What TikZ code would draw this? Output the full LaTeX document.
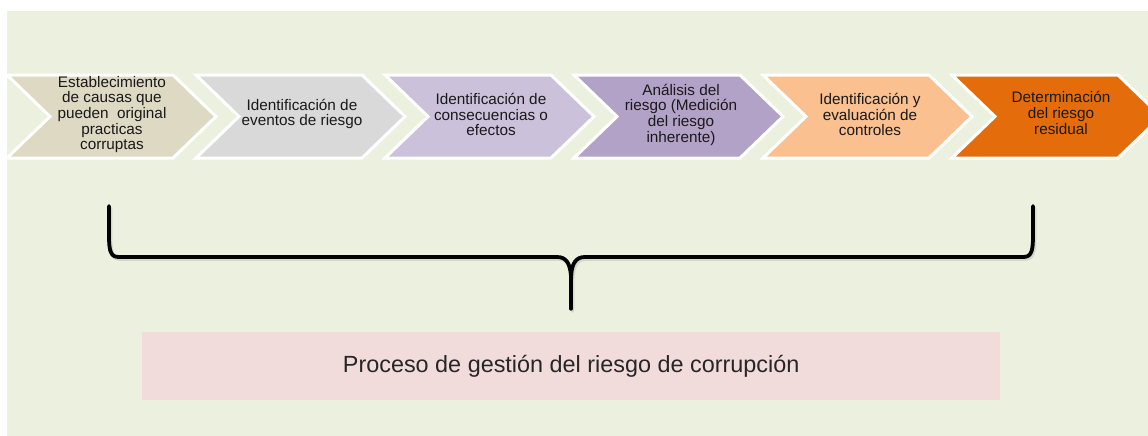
\documentclass[tikz,border=0pt]{standalone}
\usepackage{fontspec}
\setmainfont{Liberation Sans}
\definecolor{bgG}{HTML}{EBF1DE}
\definecolor{chA}{HTML}{DDD9C3}
\definecolor{chB}{HTML}{D9D9D9}
\definecolor{chC}{HTML}{CCC1DA}
\definecolor{chD}{HTML}{B3A2C7}
\definecolor{chE}{HTML}{FAC090}
\definecolor{chF}{HTML}{E46C0A}
\definecolor{pinkbox}{HTML}{F2DCDB}
\begin{document}
\begin{tikzpicture}[x=1pt,y=-1pt,
  chev/.style={draw=white,line width=3pt,line join=miter},
  chevtext/.style={align=center,inner sep=0pt,text=black!90,font=\fontsize{15.3}{15.7}\selectfont},
  bracestyle/.style={draw=black,line width=3.8pt,line cap=round,line join=round}]
\useasboundingbox (0,0) rectangle (1148,436);
\fill[white] (0,0) rectangle (1148,436);
\fill[bgG] (7,11) rectangle (1148,436);
\begin{scope}
\clip (7,11) rectangle (1148,436);
\foreach \L/\col in {7/chA,196/chB,385/chC,574/chD,763/chE,952/chF}{
  \filldraw[chev,fill=\col] (\L,75) -- ({\L+166},75) -- ({\L+209},116.5) -- ({\L+166},158) -- (\L,158) -- ({\L+43},116.5) -- cycle;
}
\end{scope}
\node[chevtext] (c1) at (112,114.5) {Establecimiento\\de causas que\\pueden~ original\\practicas\\corruptas};
\node[chevtext] (c2) at (302,114) {Identificación de\\eventos de riesgo};
\node[chevtext] (c3) at (491,114.5) {Identificación de\\consecuencias o\\efectos};
\node[chevtext] (c4) at (681,114.5) {Análisis del\\riesgo (Medición\\del riesgo\\inherente)};
\node[chevtext] (c5) at (870,114.5) {Identificación y\\evaluación de\\controles};
\node[chevtext] (c6) at (1061,113) {Determinación\\del riesgo\\residual};
% brace shadow
\begin{scope}[shift={(1.5,2)},opacity=0.22]
\draw[bracestyle,draw=gray] (109,206) -- (109,236) .. controls (109,252) and (111,257) .. (119,257) -- (557,257) .. controls (566,257) and (570,263) .. (571,276) -- (571,309);
\draw[bracestyle,draw=gray] (1033,206) -- (1033,236) .. controls (1033,252) and (1031,257) .. (1023,257) -- (585,257) .. controls (576,257) and (572,263) .. (571,276);
\end{scope}
% brace
\draw[bracestyle] (109,206) -- (109,236) .. controls (109,252) and (111,257) .. (119,257) -- (557,257) .. controls (566,257) and (570,263) .. (571,276);
\draw[bracestyle] (1033,206) -- (1033,236) .. controls (1033,252) and (1031,257) .. (1023,257) -- (585,257) .. controls (576,257) and (572,263) .. (571,276);
\draw[black,line width=3.2pt,line cap=round] (571,272) -- (571,309);
\node[fill=pinkbox,minimum width=858pt,minimum height=68pt,inner sep=0pt,anchor=north west] (proc) at (142,332) {};
\node[inner sep=0pt,font=\fontsize{23.4}{26}\selectfont,text=black!85] (proctext) at (proc.center) {Proceso de gestión del riesgo de corrupción};
\end{tikzpicture}
\end{document}
